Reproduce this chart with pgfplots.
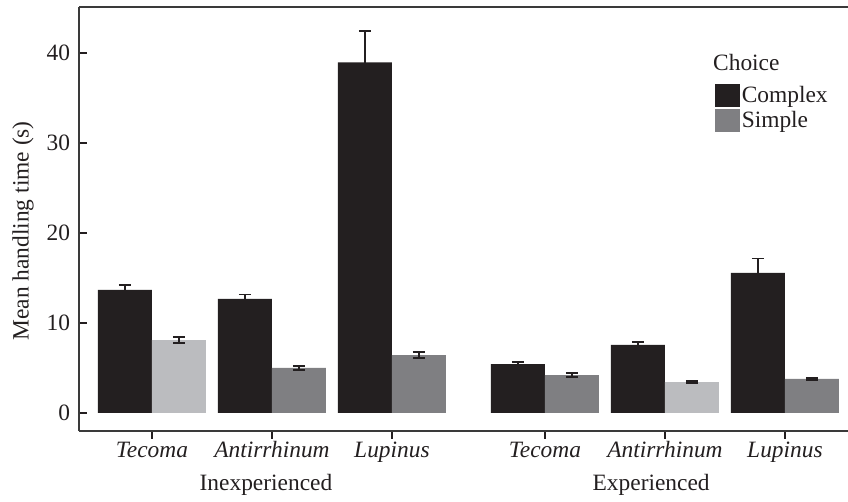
\documentclass[border=0pt]{standalone}
\usepackage{fontspec}
\setmainfont{Liberation Serif}
\usepackage{pgfplots}
\pgfplotsset{compat=1.18}
\usepackage{pgfplotstable}

\definecolor{cComplex}{HTML}{231F20}
\definecolor{cSimple}{HTML}{7F7F82}
\definecolor{cSimpleLight}{HTML}{BBBCBF}
\definecolor{cFrame}{HTML}{3A3A3A}

% x = bar centre, y = mean handling time (s), e = standard error
\pgfplotstableread{
x      y      e
-0.225 13.67  0.55
0.775  12.67  0.50
1.775  38.97  3.50
3.050  5.44   0.20
4.050  7.56   0.30
5.050  15.56  1.60
}\complexdata
\pgfplotstableread{
x      y      e
1.225  5.00   0.20
2.225  6.44   0.30
3.500  4.22   0.25
5.500  3.78   0.12
}\simpledata
\pgfplotstableread{
x      y      e
0.225  8.10   0.30
4.500  3.44   0.12
}\simplelightdata

\begin{document}
\fontsize{23.5}{27}\selectfont
\begin{tikzpicture}
\path[use as bounding box] (0,0) rectangle (848bp,502bp);
\begin{axis}[
  at={(79bp,71bp)}, anchor=south west,
  x=120bp, y=9bp,
  xmin=-0.608, xmax=5.817,
  ymin=-2, ymax=45.11,
  /pgf/number format/assume math mode=true,
  axis line style={cFrame, line width=1.3bp},
  separate axis lines,
  axis x line*=box,
  axis y line*=left,
  tick style={cComplex, line width=1.5bp},
  major tick length=8bp,
  tick align=inside,
  xtick pos=bottom, ytick pos=left,
  ytick={0,10,20,30,40},
  xtick={0,1,2,3.275,4.275,5.275},
  xticklabels={\textit{Tecoma},\textit{Antirrhinum},\textit{Lupinus},\textit{Tecoma},\textit{Antirrhinum},\textit{Lupinus}},
  xticklabel style={anchor=base, yshift=-18bp, text=cComplex},
  yticklabel style={xshift=-1bp, text=cComplex},
  ylabel={Mean handling time (s)},
  every axis y label/.style={at={(axis description cs:-0.0726,0.472)}, rotate=90, anchor=center, text=cComplex},
  clip=false,
  ybar, bar width=0.45, bar shift=0pt,
  error bars/y dir=both, error bars/y explicit,
  error bars/error bar style={cComplex, line width=1.8bp},
  error bars/error mark options={rotate=90, mark size=6bp, line width=1.8bp, cComplex},
  legend style={at={(axis description cs:0.825,0.818)}, anchor=north west,
    draw=none, fill=none, inner sep=0pt, row sep=2bp,
    nodes={inner sep=1.5bp, anchor=west, text=cComplex}},
  legend cell align=left,
  legend image code/.code={\fill[#1] (0bp,-11.5bp) rectangle (25bp,11.5bp);},
]
\addplot[fill=cComplex, draw=none] table[x=x, y=y, y error=e] {\complexdata};
\addplot[fill=cSimple, draw=none] table[x=x, y=y, y error=e] {\simpledata};
\addplot[fill=cSimpleLight, draw=none, forget plot] table[x=x, y=y, y error=e] {\simplelightdata};
\legend{Complex, Simple}
% legend title and experience groups
\node[anchor=base west, inner sep=0pt, text=cComplex] at (axis description cs:0.8223,0.8514) {Choice};
\node[anchor=base, text=cComplex] at (axis cs:0.95,-8.56) {Inexperienced};
\node[anchor=base, text=cComplex] at (axis cs:4.16,-8.56) {Experienced};
\end{axis}
\end{tikzpicture}
\end{document}
